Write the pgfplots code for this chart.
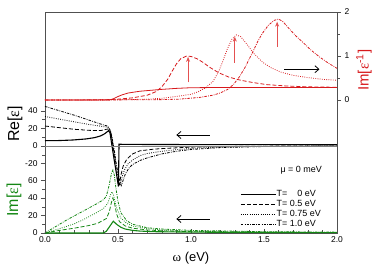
\documentclass[border=0pt]{standalone}
\usepackage{fontspec}
\setmainfont{Liberation Sans}
\newfontfamily\grk{Liberation Serif}
\usepackage{pgfplots}
\pgfplotsset{compat=1.18}
\usetikzlibrary{arrows.meta}
\definecolor{cred}{RGB}{215,25,28}
\definecolor{carrow}{RGB}{228,80,80}
\definecolor{cgreen}{RGB}{20,135,20}
\definecolor{cframe}{RGB}{80,80,80}
\pgfplotsset{
  base/.style={at={(0,0)}, anchor=south west, scale only axis,
    width=292bp, height=221bp, xmin=0, xmax=2, clip=false,
    /pgf/number format/assume math mode=true,
    ticklabel style={font=\fontsize{8.5}{9}\selectfont},
    axis line style={cframe, line width=0.6bp},
    tick style={cframe, line width=0.5bp},
    major tick length=4bp, minor tick length=2.5bp},
  yside/.style={axis x line=none, tick align=outside, xtick=\empty},
  dsh/.style={dash pattern=on 4bp off 2bp},
  dtt/.style={dash pattern=on 0.8bp off 1.4bp},
  dsd/.style={dash pattern=on 2.5bp off 1.2bp on 0.8bp off 1.2bp},
}
\begin{document}
\begin{tikzpicture}
% frame and x axis
\begin{axis}[base, ymin=0, ymax=1, ytick=\empty,
  xtick={0,0.5,1,1.5,2}, minor x tick num=4, xtick pos=left, tick align=inside,
  xticklabel style={/pgf/number format/.cd, fixed, fixed zerofill, precision=1}]
\node[font=\fontsize{13}{15}\selectfont] at (rel axis cs:0.5,0) [yshift=-25bp] {{\grk ω} (eV)};
\end{axis}
% Im[eps] (green)
\begin{axis}[base, yside, axis y line*=left, ymin=0, ymax=252.6,
  ytick={0,20,40,60}, minor ytick={10,30,50}]
\addplot[cgreen, line width=1.1bp] coordinates {(0,0) (0.40,0) (0.42,2) (0.445,8) (0.468,13.5) (0.49,10) (0.52,6.5) (0.55,4.5) (0.6,3) (0.65,2.2) (0.75,1.5) (1.0,1) (1.5,0.6) (2.0,0.4)};
\addplot[cgreen, line width=0.8bp, dsh] coordinates {(0,0) (0.1,3) (0.2,5.5) (0.3,8.5) (0.36,11) (0.42,16.5) (0.44,24) (0.455,35) (0.465,40) (0.475,35) (0.49,22) (0.51,13) (0.55,8) (0.6,5.5) (0.7,3.5) (0.8,2.5) (1.0,1.5) (1.5,0.8) (2.0,0.5)};
\addplot[cgreen, line width=0.8bp, dtt] coordinates {(0,0) (0.1,5) (0.2,10.5) (0.26,15) (0.35,23) (0.4,28) (0.43,34) (0.45,44) (0.46,47) (0.47,43) (0.49,29) (0.52,17) (0.56,11) (0.6,8) (0.7,5) (0.8,3.5) (1.0,2) (1.5,1) (2.0,0.6)};
\addplot[cgreen, line width=0.8bp, dsd] coordinates {(0,0) (0.05,5) (0.15,15) (0.25,24) (0.35,33) (0.4,38) (0.42,42) (0.44,55) (0.455,68) (0.465,72) (0.475,66) (0.485,52) (0.5,36) (0.52,23) (0.56,14) (0.6,10) (0.7,6) (0.8,4.5) (1.0,3) (1.5,1.5) (2.0,1)};
\draw[black, line width=0.8bp, -{Straight Barb[length=4bp,width=7bp]}] (axis cs:1.13,16) -- (axis cs:0.90,16);
\node[rotate=90, text=cgreen, font=\fontsize{16}{18}\selectfont] at (axis cs:-0.212,37.7) {Im[{\grk ε}]};
\end{axis}
% Re[eps] (black)
\begin{axis}[base, yside, axis y line*=left, ymin=-98.9, ymax=152.3,
  ytick={-20,0,20,40}, minor ytick={-10,10,30},
  legend style={draw=none, fill=none, at={(rel axis cs:0.668,0.195)}, anchor=north west,
    font=\fontsize{9}{10}\selectfont, row sep=0.8bp, inner sep=0pt,
    nodes={inner sep=0.3bp, text height=6.5bp, text depth=2bp},
    /tikz/every even column/.append style={column sep=4bp}},
  legend image code/.code={\draw[#1] (0bp,0bp) -- (35bp,0bp);},
  legend cell align=left]
\addplot[black, line width=1.1bp] coordinates {(0,6) (0.1,6.2) (0.19,6.8) (0.28,8) (0.34,9.5) (0.38,11.4) (0.41,14) (0.435,17.4) (0.445,15) (0.46,-1) (0.475,-17) (0.49,-32) (0.503,-46) (0.507,2) (0.55,1.8) (1.0,1.6) (1.5,1.5) (2.0,1.5)};
\addlegendentry{T=\hphantom{ 0.}0 eV}
\addplot[black, line width=0.8bp, dsh] coordinates {(0,22.7) (0.1,20.8) (0.2,19) (0.3,17.8) (0.38,17.5) (0.42,19) (0.44,19.5) (0.455,12) (0.47,-5) (0.485,-25) (0.5,-42) (0.51,-44) (0.52,-33) (0.535,-23) (0.56,-15) (0.6,-9) (0.65,-5.5) (0.75,-3.5) (0.85,-2.5) (1.0,-1.3) (1.2,-0.6) (1.5,-0.2) (2.0,0)};
\addlegendentry{T= 0.5 eV}
\addplot[black, line width=0.8bp, dtt] coordinates {(0,33.5) (0.1,30.5) (0.2,27.5) (0.3,24.5) (0.4,22) (0.43,21.5) (0.45,16) (0.47,-2) (0.49,-25) (0.505,-40) (0.515,-44) (0.53,-34) (0.545,-27) (0.57,-20) (0.6,-16) (0.65,-11) (0.7,-8.5) (0.8,-6) (0.9,-4.2) (1.0,-2.8) (1.2,-1.2) (1.5,-0.4) (2.0,0)};
\addlegendentry{T= 0.75 eV}
\addplot[black, line width=0.8bp, dsd] coordinates {(0,45) (0.1,40) (0.2,35) (0.3,29.5) (0.38,25) (0.43,22.5) (0.45,17) (0.47,0) (0.49,-22) (0.51,-38) (0.522,-45) (0.535,-39) (0.55,-32) (0.575,-25) (0.6,-21) (0.65,-16.5) (0.7,-13.5) (0.8,-9) (0.9,-6) (1.0,-4) (1.2,-1.8) (1.5,-0.6) (2.0,0)};
\addlegendentry{T= 1.0 eV}
\addplot[gray, line width=0.5bp, forget plot] coordinates {(0,0) (2,0)};
\draw[black, line width=0.8bp, -{Straight Barb[length=4bp,width=7bp]}] (axis cs:1.13,12.5) -- (axis cs:0.90,12.5);
\node[anchor=west, font=\fontsize{9}{10}\selectfont, inner sep=0.3bp] at (rel axis cs:0.805,0.285) {μ = 0 meV};
\node[rotate=90, font=\fontsize{16}{18}\selectfont] at (axis cs:-0.205,25) {Re[{\grk ε}]};
\end{axis}
% Im[1/eps] (red)
\begin{axis}[base, yside, axis y line*=right, ymin=-3.02, ymax=2,
  ytick={0,1,2}, minor ytick={0.5,1.5}]
\addplot[cred, line width=0.8bp] coordinates {(0,0) (0.44,0) (0.47,0.03) (0.5,0.08) (0.53,0.12) (0.57,0.16) (0.65,0.2) (0.79,0.24) (0.9,0.265) (1.0,0.28) (1.2,0.285) (1.6,0.285) (2.0,0.285)};
\addplot[cred, line width=0.8bp, dsh] coordinates {(0,0) (0.4,0.005) (0.5,0.02) (0.6,0.05) (0.7,0.11) (0.76,0.19) (0.8,0.3) (0.84,0.47) (0.87,0.65) (0.9,0.82) (0.93,0.94) (0.97,1.0) (1.0,0.99) (1.04,0.94) (1.08,0.86) (1.13,0.74) (1.19,0.62) (1.26,0.52) (1.34,0.45) (1.42,0.4) (1.52,0.35) (1.65,0.32) (1.8,0.3) (2.0,0.29)};
\addplot[cred, line width=0.8bp, dtt] coordinates {(0,0) (0.5,0.005) (0.7,0.02) (0.8,0.04) (0.92,0.09) (1.0,0.13) (1.05,0.19) (1.1,0.28) (1.15,0.42) (1.19,0.65) (1.22,0.9) (1.25,1.17) (1.28,1.38) (1.31,1.48) (1.34,1.44) (1.38,1.28) (1.43,1.06) (1.49,0.86) (1.55,0.73) (1.62,0.63) (1.7,0.56) (1.8,0.51) (1.9,0.47) (2.0,0.45)};
\addplot[cred, line width=0.8bp, dsd] coordinates {(0,0) (0.6,0.005) (0.8,0.01) (0.92,0.02) (1.06,0.06) (1.15,0.11) (1.2,0.16) (1.25,0.24) (1.29,0.35) (1.33,0.52) (1.37,0.74) (1.40,0.94) (1.43,1.14) (1.46,1.35) (1.49,1.52) (1.53,1.7) (1.57,1.81) (1.60,1.84) (1.63,1.78) (1.67,1.63) (1.72,1.45) (1.77,1.3) (1.82,1.14) (1.88,0.98) (1.94,0.84) (2.0,0.72)};
\draw[carrow, line width=0.8bp, -{Stealth[length=5bp,width=4bp]}] (axis cs:0.98,0.40) -- (axis cs:0.98,0.98);
\draw[carrow, line width=0.8bp, -{Stealth[length=5bp,width=4bp]}] (axis cs:1.30,0.85) -- (axis cs:1.30,1.44);
\draw[carrow, line width=0.8bp, -{Stealth[length=5bp,width=4bp]}] (axis cs:1.59,1.21) -- (axis cs:1.59,1.78);
\draw[black, line width=0.8bp, -{Straight Barb[length=4bp,width=7bp]}] (axis cs:1.64,0.70) -- (axis cs:1.88,0.70);
\node[rotate=90, text=cred, font=\fontsize{15}{17}\selectfont] at (rel axis cs:1.092,0.737) {Im[{\grk ε}\textsuperscript{-1}]};
\end{axis}
\pgfresetboundingbox
\path (-45bp,-39bp) rectangle (329bp,233bp);
\end{tikzpicture}
\end{document}
